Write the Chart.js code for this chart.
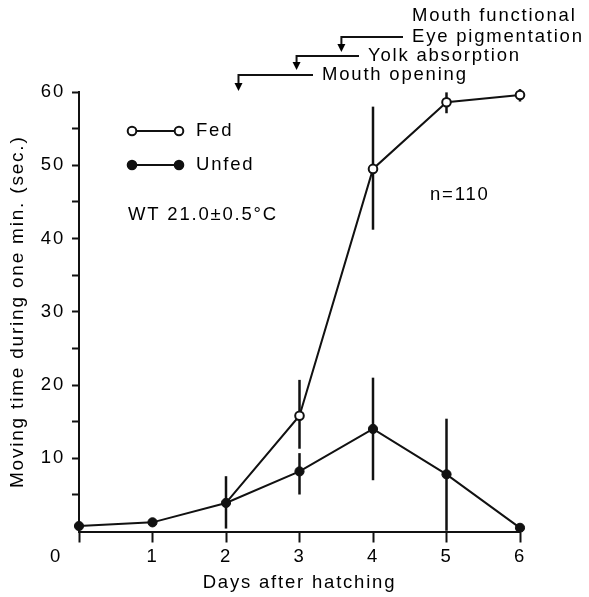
<!DOCTYPE html>
<html><head><meta charset="utf-8">
<script src="https://cdn.jsdelivr.net/npm/chart.js@4.4.0/dist/chart.umd.min.js"></script>
<style>html,body{margin:0;padding:0;background:#fff}#wrap{width:589px;height:597px}</style>
</head><body><div id="wrap"><canvas id="c" width="589" height="597"></canvas></div>
<script>
// ---- data ----
const days = [0, 1, 2, 3, 4, 5, 6];
const fedMeans   = [null, null, 3.9, 15.8, 49.5, 58.6, 59.6];
const fedLow     = [null, null, null, 11.3, 41.2, 57.1, 58.7];
const fedHigh    = [null, null, null, 20.7, 58.0, 59.95, 60.4];
const unfedMeans = [0.75, 1.25, 3.9, 8.2, 14.0, 7.8, 0.5];
const unfedLow   = [null, 0.7, 0.4, 5.05, 7.0, 0.1, null];
const unfedHigh  = [null, 1.8, 7.55, 10.7, 21.0, 15.4, null];
const yTickValues = [10, 20, 30, 40, 50, 60];
const seriesNames = ['Fed', 'Unfed'];
const eventLabels = ['Mouth opening', 'Yolk absorption', 'Eye pigmentation', 'Mouth functional'];
const eventDays   = [2.17, 2.96, 3.57, null];
const notes = ['WT 21.0\u00b10.5\u00b0C', 'n=110'];
const xTitle = 'Days after hatching';
const yTitle = 'Moving time during one min. (sec.)';

const FONT = "'Liberation Sans', Arial, Helvetica, sans-serif";
const FS = 18.5;
const LS = '1.8px';
const INK = '#000';

const toPts = arr => days.map((d, i) => ({x: d, y: arr[i]})).filter(p => p.y !== null);

const spacing = {
  id: 'spacing',
  beforeLayout(c) { c.ctx.letterSpacing = LS; },
  beforeDraw(c) { c.ctx.letterSpacing = LS; }
};

const errorBars = {
  id: 'errorBars',
  beforeDatasetsDraw(chart) {
    const {ctx, scales: {x, y}} = chart;
    ctx.save();
    ctx.strokeStyle = '#111'; ctx.lineWidth = 2.5; ctx.lineCap = 'butt';
    const draw = (lo, hi) => days.forEach((d, i) => {
      if (lo[i] == null) return;
      const px = x.getPixelForValue(d);
      ctx.beginPath();
      ctx.moveTo(px, y.getPixelForValue(lo[i]));
      ctx.lineTo(px, y.getPixelForValue(hi[i]));
      ctx.stroke();
    });
    draw(fedLow, fedHigh);
    draw(unfedLow, unfedHigh);
    ctx.restore();
  }
};

const annotations = {
  id: 'annotations',
  afterDraw(chart) {
    const {ctx, scales: {x, y}} = chart;
    ctx.save();
    ctx.letterSpacing = LS;
    ctx.fillStyle = INK; ctx.strokeStyle = '#111';
    ctx.font = FS + 'px ' + FONT;
    ctx.textBaseline = 'middle'; ctx.textAlign = 'left';
    // event texts with arrows
    const textPos = [[322, 75], [368, 56], [412, 37], [412, 16]];
    const arrowTip = [91, 70, 52, null];
    eventLabels.forEach((t, i) => {
      const [tx, ty] = textPos[i];
      ctx.fillText(t, tx, ty);
      if (eventDays[i] == null) return;
      const ax = x.getPixelForValue(eventDays[i]);
      ctx.lineWidth = 2;
      ctx.beginPath();
      ctx.moveTo(tx - 9, ty);
      ctx.lineTo(ax, ty);
      ctx.lineTo(ax, arrowTip[i] - 6);
      ctx.stroke();
      ctx.beginPath();
      ctx.moveTo(ax - 4, arrowTip[i] - 8);
      ctx.lineTo(ax + 4, arrowTip[i] - 8);
      ctx.lineTo(ax, arrowTip[i]);
      ctx.closePath(); ctx.fill();
    });
    // legend
    const leg = [[131, false], [165, true]];
    seriesNames.forEach((n, i) => {
      const [ly, filled] = leg[i];
      ctx.lineWidth = 2;
      ctx.beginPath(); ctx.moveTo(132, ly); ctx.lineTo(179, ly); ctx.stroke();
      [132, 179].forEach(cx => {
        ctx.beginPath(); ctx.arc(cx, ly, 4.3, 0, Math.PI * 2);
        ctx.fillStyle = filled ? '#111' : '#fff'; ctx.fill();
        ctx.stroke();
      });
      ctx.fillStyle = INK;
      ctx.fillText(n, 196, ly);
    });
    ctx.fillText(notes[0], 128, 215);
    ctx.fillText(notes[1], 430, 195);
    // origin label
    ctx.textAlign = 'center';
    ctx.fillText('0', x.getPixelForValue(0) - 23, 557);
    ctx.restore();
  }
};

new Chart(document.getElementById('c'), {
  type: 'line',
  data: {
    datasets: [
      {
        label: seriesNames[0], data: toPts(fedMeans),
        borderColor: '#111', borderWidth: 2, pointBackgroundColor: '#fff',
        pointBorderColor: '#111', pointBorderWidth: 2,
        pointRadius: ctx => (ctx.raw && ctx.raw.x < 3 ? 0 : 4.3),
        tension: 0, clip: false
      },
      {
        label: seriesNames[1], data: toPts(unfedMeans),
        borderColor: '#111', borderWidth: 2, pointBackgroundColor: '#111',
        pointBorderColor: '#111', pointBorderWidth: 1, pointRadius: 4.6,
        tension: 0, clip: false
      }
    ]
  },
  options: {
    responsive: false, animation: false, devicePixelRatio: 1,
    layout: {padding: {left: 0, top: 92, right: 69, bottom: 0}},
    plugins: {legend: {display: false}, tooltip: {enabled: false}},
    scales: {
      x: {
        type: 'linear', min: 0, max: 6,
        afterFit: s => { s.height = 65.5; },
        ticks: {stepSize: 1, color: INK, padding: 3, font: {family: FONT, size: FS},
          callback: v => (v === 0 ? '' : String(v))},
        grid: {drawOnChartArea: false, tickLength: 11, tickWidth: 2, tickColor: '#111'},
        border: {color: '#111', width: 2},
        title: {display: true, text: xTitle, color: INK, font: {family: FONT, size: FS}, padding: {top: 0, bottom: 3}}
      },
      y: {
        min: 0, max: 60,
        afterFit: s => { s.width = 79; },
        ticks: {stepSize: 5, color: INK, padding: 7, font: {family: FONT, size: FS},
          callback: v => (yTickValues.includes(v) ? String(v) : '')},
        grid: {drawOnChartArea: false, tickLength: 7, tickWidth: 2,
          tickColor: c => (c.tick && c.tick.value === 0 ? 'rgba(0,0,0,0)' : '#111')},
        border: {color: '#111', width: 2},
        title: {display: true, text: yTitle, color: INK, font: {family: FONT, size: 19}, padding: {top: 6, bottom: 0}}
      }
    }
  },
  plugins: [spacing, errorBars, annotations]
});
</script>
</body></html>
